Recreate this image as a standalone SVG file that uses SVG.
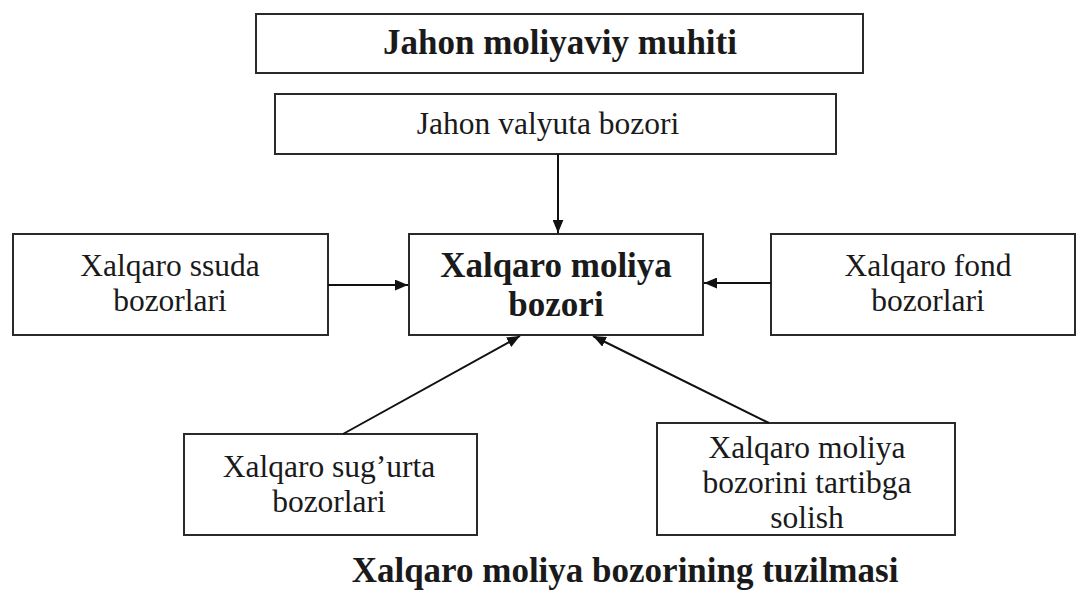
<svg xmlns="http://www.w3.org/2000/svg" width="1078" height="590" viewBox="0 0 1078 590">
<defs>
<style>
.box{fill:#fff;stroke:#2a2a2a;stroke-width:2}
.t{font-family:"Liberation Serif","Times New Roman",serif;font-size:31.5px;fill:#1a1a1a;text-anchor:middle}
.b{font-weight:bold;font-size:35px}
.c{stroke:#111;stroke-width:2;fill:none;marker-end:url(#ah)}
</style>
<marker id="ah" viewBox="0 0 12 10" refX="12" refY="5" markerWidth="13" markerHeight="11" markerUnits="userSpaceOnUse" orient="auto">
<path d="M0,0 L12,5 L0,10 z" fill="#111"/>
</marker>
</defs>
<rect width="1078" height="590" fill="#fff"/>
<g id="muhit">
<rect class="box" x="256" y="14" width="607" height="59"/>
<text class="t b" x="560" y="54">Jahon moliyaviy muhiti</text>
</g>
<g id="valyuta">
<rect class="box" x="275" y="94" width="561" height="60"/>
<text class="t" x="548" y="134">Jahon valyuta bozori</text>
</g>
<g id="markaz">
<rect class="box" x="409" y="234" width="294" height="101"/>
<text class="t b" x="556" y="277">Xalqaro moliya</text>
<text class="t b" x="556" y="316">bozori</text>
</g>
<g id="ssuda">
<rect class="box" x="13" y="234" width="315" height="101"/>
<text class="t" x="170" y="276">Xalqaro ssuda</text>
<text class="t" x="170" y="311">bozorlari</text>
</g>
<g id="fond">
<rect class="box" x="771" y="234" width="304" height="101"/>
<text class="t" x="928" y="276">Xalqaro fond</text>
<text class="t" x="928" y="311">bozorlari</text>
</g>
<g id="sugurta">
<rect class="box" x="184" y="434" width="293" height="101"/>
<text class="t" x="329" y="477">Xalqaro sug’urta</text>
<text class="t" x="329" y="512">bozorlari</text>
</g>
<g id="tartib">
<rect class="box" x="657" y="423" width="298" height="112"/>
<text class="t" x="807" y="458">Xalqaro moliya</text>
<text class="t" x="807" y="493">bozorini tartibga</text>
<text class="t" x="807" y="528">solish</text>
</g>
<g id="connectors">
<line class="c" x1="558" y1="154" x2="558" y2="233"/>
<line class="c" x1="328" y1="285" x2="408" y2="285"/>
<line class="c" x1="771" y1="283" x2="704" y2="283"/>
<line class="c" x1="343" y1="434" x2="520" y2="336"/>
<line class="c" x1="769" y1="423" x2="593" y2="336"/>
</g>
<text class="t b" x="625" y="582">Xalqaro moliya bozorining tuzilmasi</text>
</svg>
